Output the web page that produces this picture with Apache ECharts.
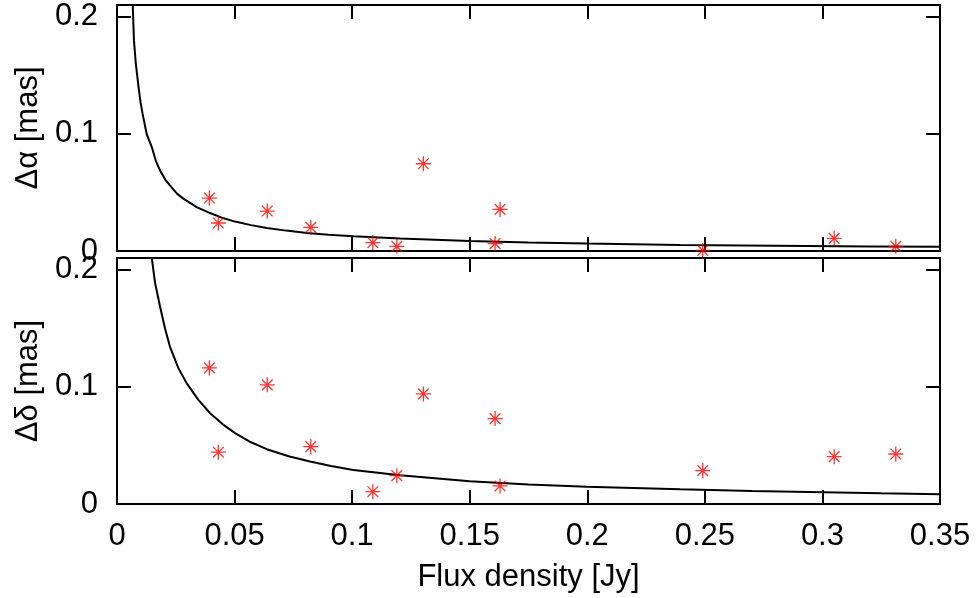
<!DOCTYPE html>
<html><head><meta charset="utf-8">
<script src="https://cdn.jsdelivr.net/npm/echarts@6/dist/echarts.min.js"></script>
<style>html,body{margin:0;padding:0;background:#fff}#c{width:980px;height:598px}</style>
</head><body><div id="c"></div>
<script>
var xTicks = [0, 0.05, 0.1, 0.15, 0.2, 0.25, 0.3, 0.35];
var yTicks = [0, 0.1, 0.2];
var flux = [0.0393, 0.0431, 0.0639, 0.0824, 0.1088, 0.1190, 0.1303, 0.1608, 0.1629, 0.2491, 0.3050, 0.3312];
var dAlpha = [0.0452, 0.0239, 0.0341, 0.0202, 0.0072, 0.0040, 0.0745, 0.0063, 0.0355, 0.0005, 0.0108, 0.0040];
var dDelta = [0.1162, 0.0442, 0.1017, 0.0490, 0.0105, 0.0242, 0.0940, 0.0729, 0.0154, 0.0285, 0.0404, 0.0427];
var curveAx = [0.0067, 0.0072, 0.0080, 0.0091, 0.0100, 0.0109, 0.0126, 0.0148, 0.0165, 0.0183, 0.0205, 0.0225, 0.0255, 0.0282, 0.0339, 0.0396, 0.0450, 0.0502, 0.0570, 0.0637, 0.0720, 0.0807, 0.0900, 0.1005, 0.1204, 0.1500, 0.1750, 0.1998, 0.2395, 0.2800, 0.3200, 0.3500];
var curveAy = [0.210, 0.180, 0.160, 0.141, 0.127, 0.117, 0.100, 0.0887, 0.077, 0.0688, 0.061, 0.056, 0.049, 0.0447, 0.0375, 0.0324, 0.0281, 0.0251, 0.0221, 0.0196, 0.0174, 0.0153, 0.0139, 0.0125, 0.0106, 0.0085, 0.0072, 0.0063, 0.0052, 0.0045, 0.0039, 0.0036];
var curveDx = [0.0148, 0.0162, 0.0183, 0.0204, 0.0225, 0.0261, 0.0296, 0.0346, 0.0396, 0.0450, 0.0502, 0.0570, 0.0637, 0.0730, 0.0821, 0.0910, 0.1005, 0.1204, 0.1500, 0.1750, 0.1998, 0.2395, 0.2700, 0.3004, 0.3250, 0.3500];
var curveDy = [0.210, 0.1886, 0.1686, 0.150, 0.1344, 0.116, 0.1032, 0.0889, 0.0775, 0.0680, 0.0605, 0.0527, 0.0468, 0.0408, 0.0362, 0.0325, 0.0291, 0.0246, 0.0195, 0.0167, 0.0148, 0.0125, 0.0111, 0.0100, 0.0091, 0.0083];

function pairs(a, b) { return a.map(function (v, i) { return [v, b[i]]; }); }

var FONT = 'Liberation Sans';
var FS = 31;
var lineStyle = { color: '#000', width: 2 };
function xAx(grid, pos, labels, name) {
  return {
    type: 'value', gridIndex: grid, position: pos, min: xTicks[0], max: xTicks[xTicks.length - 1], interval: 0.05,
    axisLine: { show: true, onZero: false, lineStyle: lineStyle },
    axisTick: { show: true, inside: true, length: 14, lineStyle: lineStyle },
    splitLine: { show: false },
    axisLabel: { show: labels, color: '#000', fontFamily: FONT, fontSize: FS, margin: 17 },
    name: name || '', nameLocation: 'middle', nameGap: 58,
    nameTextStyle: { color: '#000', fontFamily: FONT, fontSize: FS }
  };
}
function yAx(grid, pos, labels, name) {
  return {
    type: 'value', gridIndex: grid, position: pos, min: 0, max: 0.21, interval: 0.1,
    axisLine: { show: true, onZero: false, lineStyle: lineStyle },
    axisTick: { show: true, inside: true, length: 14, lineStyle: lineStyle },
    splitLine: { show: false },
    axisLabel: { show: labels, color: '#000', fontFamily: FONT, fontSize: FS, margin: 19, showMaxLabel: false,
      formatter: function (v) { var r = Math.round(v * 100) / 100; return yTicks.indexOf(r) >= 0 ? String(r) : ''; } },
    name: name || '', nameLocation: 'middle', nameGap: 73, nameRotate: 90,
    nameTextStyle: { color: '#000', fontFamily: FONT, fontSize: FS }
  };
}
var star = 'path://M7,0L7,14M0,7L14,7M2,2L12,12M2,12L12,2';
function scat(xi, yi, data) {
  return { type: 'scatter', xAxisIndex: xi, yAxisIndex: yi, data: data, symbol: star, symbolSize: 15,
    itemStyle: { color: 'rgba(0,0,0,0)', borderColor: '#ff0000', borderWidth: 1.3 }, z: 3 };
}
function curve(xi, yi, data) {
  return { type: 'line', xAxisIndex: xi, yAxisIndex: yi, data: data, showSymbol: false, symbol: 'none',
    smooth: false, lineStyle: { color: '#000', width: 2 }, z: 2 };
}
var chart = echarts.init(document.getElementById('c'), null, { renderer: 'canvas' });
chart.setOption({
  animation: false,
  backgroundColor: '#fff',
  textStyle: { fontFamily: FONT },
  grid: [
    { left: 117, width: 823, top: 5, height: 246 },
    { left: 117, width: 823, top: 258, height: 246 }
  ],
  xAxis: [xAx(0, 'bottom', false), xAx(0, 'top', false), xAx(1, 'bottom', true, 'Flux density [Jy]'), xAx(1, 'top', false)],
  yAxis: [yAx(0, 'left', true, 'Δα [mas]'), yAx(0, 'right', false), yAx(1, 'left', true, 'Δδ [mas]'), yAx(1, 'right', false)],
  series: [
    curve(0, 0, pairs(curveAx, curveAy)),
    scat(0, 0, pairs(flux, dAlpha)),
    curve(2, 2, pairs(curveDx, curveDy)),
    scat(2, 2, pairs(flux, dDelta))
  ]
});
</script></body></html>
